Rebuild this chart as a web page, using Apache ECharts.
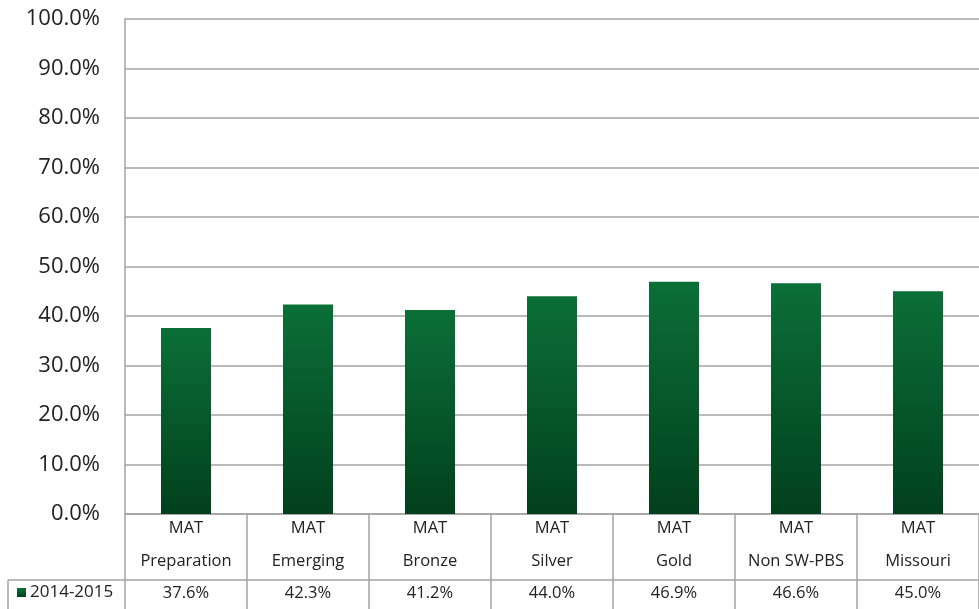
<!DOCTYPE html>
<html>
<head>
<meta charset="utf-8">
<script src="https://cdn.jsdelivr.net/npm/echarts@6/dist/echarts.min.js"></script>
<style>
  html, body { margin: 0; padding: 0; background: #ffffff; }
  #chart { width: 979px; height: 609px; }
</style>
</head>
<body>
<div id="chart"></div>
<script>
// Category names (two lines each) and the 2014-2015 series
const categories = [
  'MAT\nPreparation', 'MAT\nEmerging', 'MAT\nBronze', 'MAT\nSilver',
  'MAT\nGold', 'MAT\nNon SW-PBS', 'MAT\nMissouri'
];
const seriesName = '2014-2015';
const values = [37.6, 42.3, 41.2, 44.0, 46.9, 46.6, 45.0];
const yTicks = [0, 10, 20, 30, 40, 50, 60, 70, 80, 90, 100];

const gridColor = '#a3a3a3';
const textColor = '#222222';
const fontFamily = '"Open Sans", Lato, sans-serif';

const chart = echarts.init(document.getElementById('chart'), null, { renderer: 'canvas' });

const option = {
  backgroundColor: '#ffffff',
  animation: false,
  grid: { left: 125, right: 0, top: 19, bottom: 95, containLabel: false },
  legend: {
    data: [seriesName],
    left: 17,
    top: 584,
    icon: 'rect',
    itemWidth: 9,
    itemHeight: 9,
    itemGap: 3,
    padding: 0,
    textStyle: { color: textColor, fontSize: 17, fontFamily: fontFamily, padding: [0, 0, 0, -1] }
  },
  xAxis: [
    {
      type: 'category',
      data: categories,
      position: 'bottom',
      axisLine: { show: true, lineStyle: { color: gridColor, width: 1.5 } },
      axisTick: { show: true, interval: 0, alignWithLabel: false, length: 95,
                  lineStyle: { color: gridColor, width: 1.5 } },
      axisLabel: { interval: 0, color: textColor, fontSize: 16.5, fontFamily: fontFamily,
                   lineHeight: 33, margin: -2 },
      splitLine: { show: false }
    },
    {
      type: 'category',
      data: categories,
      position: 'bottom',
      offset: 66,
      axisLine: { show: true, lineStyle: { color: gridColor, width: 1.5 } },
      axisTick: { show: false },
      axisLabel: { interval: 0, color: textColor, fontSize: 16.5, fontFamily: fontFamily,
                   lineHeight: 18, margin: 4,
                   formatter: function (v, i) { return values[i].toFixed(1) + '%'; } },
      splitLine: { show: false }
    }
  ],
  yAxis: {
    type: 'value',
    min: yTicks[0],
    max: yTicks[yTicks.length - 1],
    interval: 10,
    axisLine: { show: true, lineStyle: { color: gridColor, width: 1.5 } },
    axisTick: { show: false },
    axisLabel: { color: textColor, fontSize: 22, fontFamily: fontFamily, margin: 25,
                 formatter: function (v) { return v.toFixed(1) + '%'; } },
    splitLine: { show: true, lineStyle: { color: gridColor, width: 1.5 } }
  },
  series: [
    {
      name: seriesName,
      type: 'bar',
      data: values,
      barWidth: 50,
      itemStyle: {
        color: new echarts.graphic.LinearGradient(0, 0, 0, 1, [
          { offset: 0, color: '#0b6f37' },
          { offset: 1, color: '#02401d' }
        ]),
        shadowColor: 'rgba(0,0,0,0.25)',
        shadowBlur: 3
      }
    }
  ]
};

chart.setOption(option);

// Legend cell border of the data table (left and top edges)
const axisLeft = chart.convertToPixel({ xAxisIndex: 0 }, 0) - 61;
const rowTop = 609 - 29;
chart.setOption({
  graphic: [
    { type: 'line', shape: { x1: 8, y1: rowTop, x2: axisLeft, y2: rowTop },
      style: { stroke: gridColor, lineWidth: 1.5 } },
    { type: 'line', shape: { x1: 8, y1: rowTop, x2: 8, y2: 609 },
      style: { stroke: gridColor, lineWidth: 1.5 } }
  ]
});
</script>
</body>
</html>
